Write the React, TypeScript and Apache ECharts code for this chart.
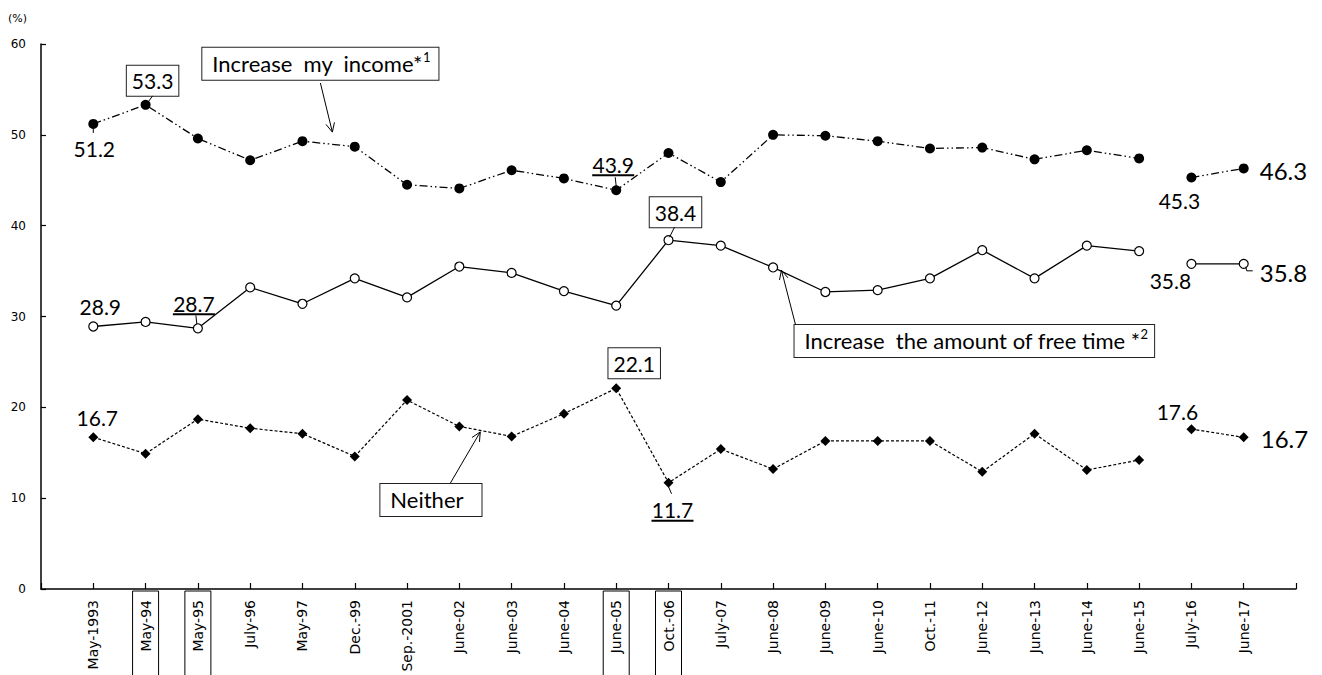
import React, { useEffect, useRef } from "react";
import * as echarts from "echarts";

// ---------- data ----------
const categories = [
  "May-1993", "May-94", "May-95", "July-96", "May-97", "Dec.-99", "Sep.-2001",
  "June-02", "June-03", "June-04", "June-05", "Oct.-06", "July-07", "June-08",
  "June-09", "June-10", "Oct.-11", "June-12", "June-13", "June-14", "June-15",
  "July-16", "June-17",
];
const boxedCategories = ["May-94", "May-95", "June-05", "Oct.-06"];

// May-1993 .. June-15 (old survey method), then July-16 .. June-17
const incomeOld = [51.2, 53.3, 49.6, 47.2, 49.3, 48.7, 44.5, 44.1, 46.1, 45.2, 43.9, 48.0, 44.8, 50.0, 49.9, 49.3, 48.5, 48.6, 47.3, 48.3, 47.4];
const incomeNew = [45.3, 46.3];
const freeOld = [28.9, 29.4, 28.7, 33.2, 31.4, 34.2, 32.1, 35.5, 34.8, 32.8, 31.2, 38.4, 37.8, 35.4, 32.7, 32.9, 34.2, 37.3, 34.2, 37.8, 37.2];
const freeNew = [35.8, 35.8];
const neitherOld = [16.7, 14.9, 18.7, 17.7, 17.1, 14.6, 20.8, 17.9, 16.8, 19.3, 22.1, 11.7, 15.4, 13.2, 16.3, 16.3, 16.3, 12.9, 17.1, 13.1, 14.2];
const neitherNew = [17.6, 16.7];

const yMin = 0;
const yMax = 60;
const yInterval = 10;

// ---------- styling / annotation layout ----------
const FONT_NUM = "Lato, 'Open Sans', sans-serif";
const FONT_AX = "'DejaVu Sans', Verdana, sans-serif";

type Kind = "plain" | "box" | "under" | "big";
const valueLabels: { s: "income" | "free" | "neither"; i: number; dx: number; dy: number; kind: Kind; leader?: number[][] }[] = [
  { s: "income", i: 0, dx: 1, dy: 25, kind: "plain", leader: [[0, 4], [0, 9]] },
  { s: "income", i: 1, dx: 7, dy: -24, kind: "box", leader: [[2, -2], [7, -9]] },
  { s: "income", i: 10, dx: -3, dy: -26, kind: "under", leader: [[-1, -13], [0, -4]] },
  { s: "income", i: 21, dx: -12, dy: 23, kind: "plain" },
  { s: "income", i: 22, dx: 16, dy: 2, kind: "big" },
  { s: "free", i: 0, dx: 7, dy: -20, kind: "plain" },
  { s: "free", i: 2, dx: -4, dy: -25, kind: "under", leader: [[-2, -13], [-1, -4]] },
  { s: "free", i: 11, dx: 7, dy: -28, kind: "box", leader: [[1, -3], [6, -13]] },
  { s: "free", i: 21, dx: -21, dy: 17, kind: "plain" },
  { s: "free", i: 22, dx: 16, dy: 9, kind: "big", leader: [[2, 3], [3, 7], [9, 7]] },
  { s: "neither", i: 0, dx: 4, dy: -20, kind: "plain" },
  { s: "neither", i: 10, dx: 18, dy: -25, kind: "box" },
  { s: "neither", i: 11, dx: 4, dy: 27, kind: "under", leader: [[0, 4], [3, 11]] },
  { s: "neither", i: 21, dx: -14, dy: -18, kind: "plain" },
  { s: "neither", i: 22, dx: 17, dy: 1, kind: "big" },
];

// boxes: top-left anchor in (category index, value); arrows from tail to tip
const seriesBoxes = [
  { text: "Increase  my  income*", sup: "1", at: [2.085, 59.6], tail: [4.343, 55.7], tip: [4.572, 50.3], padR: 8 },
  { text: "Increase  the amount of free time *", sup: "2", at: [13.41, 29.07], tail: [13.43, 29.07], tip: [13.16, 35.1], padR: 6 },
  { text: "Neither", sup: "", at: [5.49, 11.56], tail: [6.83, 11.67], tip: [7.4, 17.29], padR: 18 },
];

export default function App() {
  const ref = useRef<HTMLDivElement>(null);

  useEffect(() => {
    const el = ref.current!;
    const chart = echarts.init(el, null, { renderer: "svg" });
    const axisCats = ["", ...categories, ""];
    const pad = (arr: number[], start: number) => {
      const d: (number | null)[] = new Array(axisCats.length).fill(null);
      arr.forEach((v, k) => (d[start + 1 + k] = v));
      return d;
    };
    const nOld = incomeOld.length;

    const incomeStyle = {
      symbol: "circle", symbolSize: 10,
      itemStyle: { color: "#000" },
      lineStyle: { color: "#000", width: 1.3, type: [8, 3, 1.5, 3, 1.5, 3] },
    };
    const freeStyle = {
      symbol: "circle", symbolSize: 9,
      itemStyle: { color: "#fff", borderColor: "#000", borderWidth: 1.2 },
      lineStyle: { color: "#000", width: 1.3, type: "solid" },
    };
    const neitherStyle = {
      symbol: "diamond", symbolSize: 10,
      itemStyle: { color: "#000" },
      lineStyle: { color: "#000", width: 1.2, type: [3, 2] },
    };
    const mk = (name: string, data: (number | null)[], st: any) => ({
      type: "line", name, data, showAllSymbol: true, connectNulls: false,
      z: 3, ...st, emphasis: { disabled: true },
    });

    const xRichBase = { fontSize: 14, fontFamily: FONT_AX, color: "#000", lineHeight: 18, padding: [6, 9, 6, 30] };

    chart.setOption({
      animation: false,
      backgroundColor: "#fff",
      grid: { left: 41, right: 26, top: 44, bottom: 86, containLabel: false, outerBoundsMode: "none" },
      xAxis: {
        type: "category",
        data: axisCats,
        boundaryGap: false,
        axisLine: { lineStyle: { color: "#000", width: 1.5 } },
        axisTick: { show: true, inside: true, length: 6, interval: 0, lineStyle: { color: "#000", width: 1.2 } },
        axisLabel: {
          interval: 0, rotate: 90, margin: 2, hideOverlap: false,
          formatter: (v: string) => (v === "" ? "" : boxedCategories.includes(v) ? `{b|${v}}` : `{n|${v}}`),
          rich: { n: { ...xRichBase }, b: { ...xRichBase, borderColor: "#000", borderWidth: 1 } },
        },
        splitLine: { show: false },
      },
      yAxis: {
        type: "value", min: yMin, max: yMax, interval: yInterval,
        axisLine: { show: true, lineStyle: { color: "#000", width: 1.5 } },
        axisTick: { show: true, inside: true, length: 5, lineStyle: { color: "#000", width: 1.2 } },
        axisLabel: { color: "#000", fontSize: 12, fontFamily: FONT_AX, margin: 15 },
        splitLine: { show: false },
      },
      series: [
        mk("Increase my income", pad(incomeOld, 0), incomeStyle),
        mk("Increase my income (2016-)", pad(incomeNew, nOld), incomeStyle),
        mk("Increase the amount of free time", pad(freeOld, 0), freeStyle),
        mk("Increase the amount of free time (2016-)", pad(freeNew, nOld), freeStyle),
        mk("Neither", pad(neitherOld, 0), neitherStyle),
        mk("Neither (2016-)", pad(neitherNew, nOld), neitherStyle),
      ],
    });

    const a = chart.convertToPixel({ gridIndex: 0 }, [1, 0]) as number[];
    const b = chart.convertToPixel({ gridIndex: 0 }, [2, 60]) as number[];
    const step = b[0] - a[0];
    const px = (ci: number, v: number) => [a[0] + ci * step, a[1] + ((b[1] - a[1]) * v) / 60];

    const all: Record<string, number[]> = {
      income: [...incomeOld, ...incomeNew],
      free: [...freeOld, ...freeNew],
      neither: [...neitherOld, ...neitherNew],
    };

    const g: any[] = [];
    g.push({
      type: "text", x: 8, y: 13, z: 100,
      style: { text: "(%)", fill: "#000", fontSize: 11, fontFamily: FONT_AX, align: "left", verticalAlign: "top" },
    });

    for (const L of valueLabels) {
      const v = all[L.s][L.i];
      const [x, y] = px(L.i, v);
      const cx = x + L.dx, cy = y + L.dy;
      const txt = v.toFixed(1);
      const style: any = {
        text: txt, fill: "#000", fontFamily: FONT_NUM,
        fontSize: L.kind === "big" ? 24 : 21,
        align: L.kind === "big" ? "left" : "center", verticalAlign: "middle",
      };
      if (L.kind === "box") {
        Object.assign(style, { backgroundColor: "#fff", borderColor: "#222", borderWidth: 1, padding: [3, 5, 1, 5], lineHeight: 26 });
      }
      g.push({ type: "text", x: cx, y: cy, z: 100, style });
      if (L.kind === "under") {
        g.push({ type: "line", z: 100, shape: { x1: cx - 21, y1: cy + 11, x2: cx + 21, y2: cy + 11 }, style: { stroke: "#000", lineWidth: 2 } });
      }
      if (L.leader) {
        g.push({
          type: "polyline", z: 100,
          shape: { points: L.leader.map(([dx, dy]) => [x + dx, y + dy]) },
          style: { stroke: "#000", lineWidth: 1, fill: null },
        });
      }
    }

    for (const B of seriesBoxes) {
      const [bx, by] = px(B.at[0], B.at[1]);
      const text = B.sup ? `${B.text}{s|${B.sup}}` : B.text;
      g.push({
        type: "text", x: bx, y: by, z: 100,
        style: {
          text, fill: "#000", fontSize: 22, fontFamily: FONT_NUM, lineHeight: 26,
          align: "left", verticalAlign: "top",
          backgroundColor: "#fff", borderColor: "#222", borderWidth: 1,
          padding: [3, B.padR, 3, 10],
          rich: { s: { fontSize: 13, fontFamily: FONT_NUM, verticalAlign: "top", lineHeight: 14, fill: "#000" } },
        },
      });
      const [tx, ty] = px(B.tail[0], B.tail[1]);
      const [hx, hy] = px(B.tip[0], B.tip[1]);
      g.push({ type: "line", z: 100, shape: { x1: tx, y1: ty, x2: hx, y2: hy }, style: { stroke: "#000", lineWidth: 1 } });
      const ang = Math.atan2(ty - hy, tx - hx);
      const len = 10, spread = 0.45;
      g.push({
        type: "polyline", z: 100,
        shape: {
          points: [
            [hx + len * Math.cos(ang + spread), hy + len * Math.sin(ang + spread)],
            [hx, hy],
            [hx + len * Math.cos(ang - spread), hy + len * Math.sin(ang - spread)],
          ],
        },
        style: { stroke: "#000", lineWidth: 1, fill: null },
      });
    }

    chart.setOption({ graphic: g });
    return () => chart.dispose();
  }, []);

  return (
    <div
      ref={ref}
      style={{ position: "fixed", left: 0, top: 0, width: 1322, height: 675, background: "#fff" }}
    />
  );
}
